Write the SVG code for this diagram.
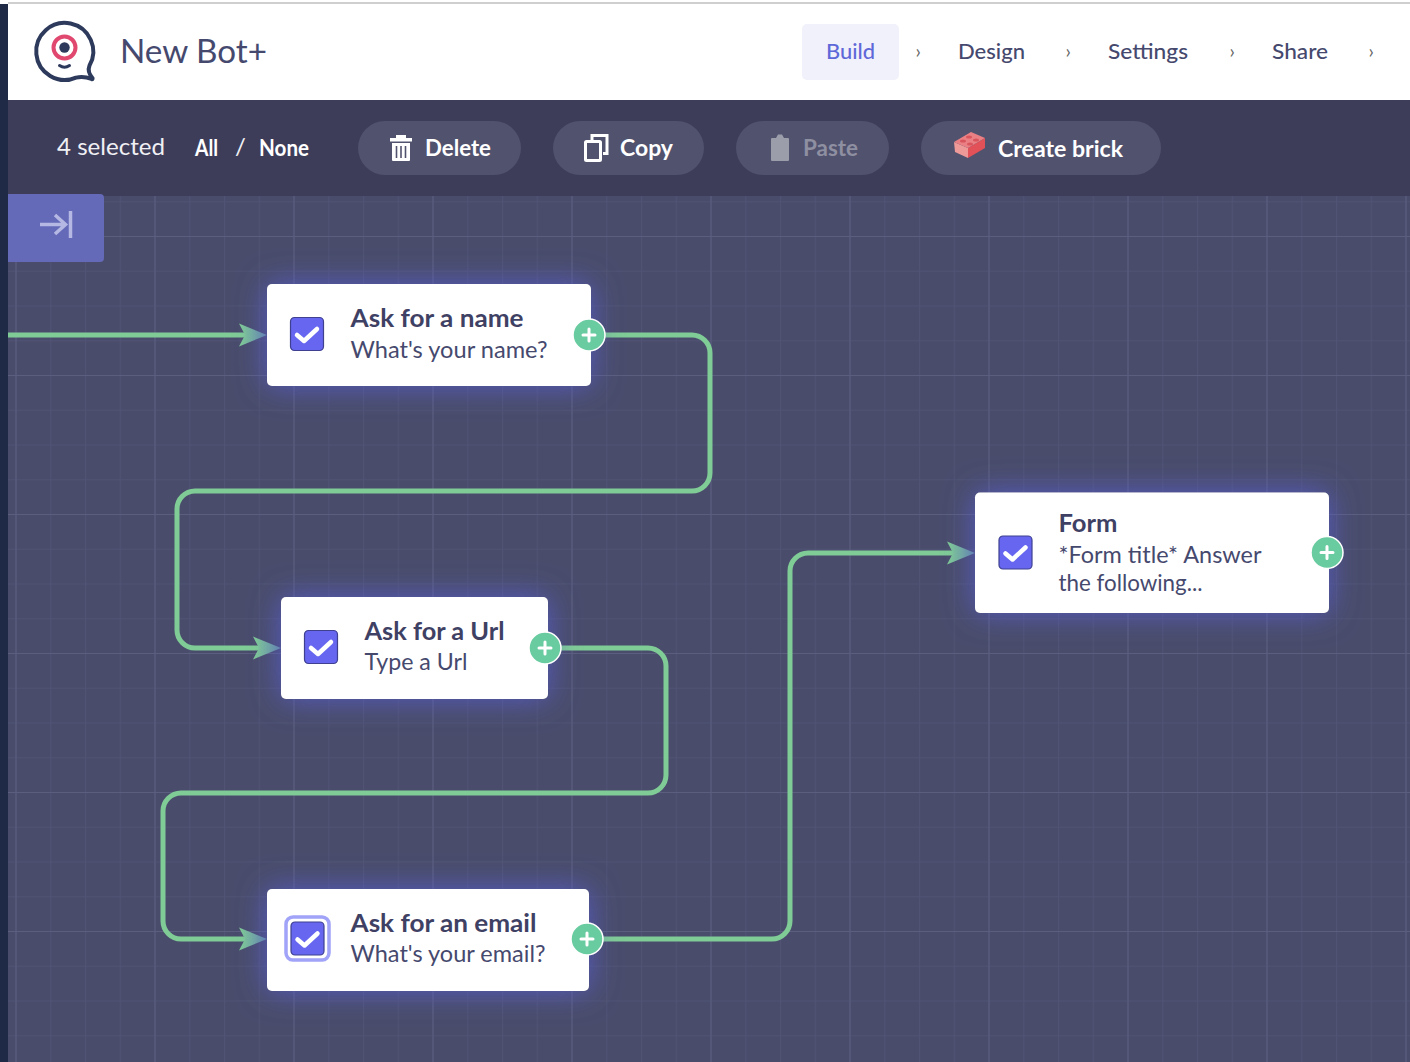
<svg xmlns="http://www.w3.org/2000/svg" width="1410" height="1062" viewBox="0 0 1410 1062">
<style>
text{font-family:"Lato","Inter","Liberation Sans",sans-serif}
.nt{font-size:25px;font-weight:700;fill:#3f4164}
.ns{font-size:23.5px;fill:#46496e}
.tb{font-size:22px;font-weight:700;fill:#fff}
.nav{font-size:22px;fill:#46496e;font-weight:500}
.chev{font-size:19px;fill:#666}
.btn{fill:#51526e}
.card{fill:#fff;filter:url(#glow)}
.cb{fill:#6666f0;stroke:#3f4190;stroke-width:1.2}
.ck{fill:none;stroke:#fff;stroke-width:4.5;stroke-linecap:round;stroke-linejoin:round}
.plus{fill:#69cba0;stroke:#fff;stroke-width:1.5}
.pl{stroke:#fff;stroke-width:3;stroke-linecap:round}
.edge{fill:none;stroke:#80cc96;stroke-width:5}
.gmin{stroke:#505374;stroke-width:2}
.gmaj{stroke:#5b5e7e;stroke-width:2}
</style>
<defs>
<filter id="glow" x="-30%" y="-70%" width="160%" height="240%"><feDropShadow dx="0" dy="0" stdDeviation="15" flood-color="#575bc8" flood-opacity=".95"/></filter>
<linearGradient id="ah" x1="0" x2="1" y1="0" y2="0"><stop offset="0" stop-color="#80cc96"/><stop offset="1" stop-color="#6da0a4"/></linearGradient>
<pattern id="gm" x="15.5" y="27.5" width="34.75" height="34.75" patternUnits="userSpaceOnUse"><path d="M0 0V34.750M0 0H34.750" class="gmin" fill="none"/></pattern>
<pattern id="gM" x="15.5" y="236" width="139" height="139" patternUnits="userSpaceOnUse"><path d="M0 0V139M0 0H139" class="gmaj" fill="none"/></pattern>
<symbol id="ckb" viewBox="0 0 34 34" overflow="visible"><rect x="0.5" y="0.5" width="33" height="33" rx="4" class="cb"/><path d="M7 18l7 6 13-12" class="ck"/></symbol>
</defs>
<rect width="1410" height="1062" fill="#fff"/>
<rect y="2" width="1410" height="2" fill="#cfcfcf"/>
<rect x="0" y="0" width="8" height="1062" fill="#1f2a47"/>
<rect x="0" y="0" width="8" height="4" fill="#fff"/>

<g id="background">
<rect x="8" y="196" width="1402" height="866" fill="#494c6b"/>
<rect x="8" y="196" width="1402" height="866" fill="url(#gm)"/>
<rect x="8" y="196" width="1402" height="866" fill="url(#gM)"/>
</g>

<g id="header">
<g id="logo" fill="none">
<path d="M89.500 65.500A28.500 28.500 0 1 0 76 77.600Q84 76 91.500 79Q93 79.500 92.500 78Q87 72 89.500 65.500Z" stroke="#2d3a5c" stroke-width="4" stroke-linejoin="round"/>
<circle cx="64.500" cy="47.500" r="11" stroke="#e0486f" stroke-width="4"/>
<circle cx="64.500" cy="47.500" r="5.200" fill="#2d3a5c"/>
<path d="M59.500 65.500q5 3.500 10 0" stroke="#2d3a5c" stroke-width="3" stroke-linecap="round"/>
</g>
<text x="120" y="63" font-size="33" fill="#46496e" textLength="147" lengthAdjust="spacingAndGlyphs">New Bot+</text>
<rect x="802" y="24" width="97" height="56" rx="5" fill="#f1f1fb"/>
<text x="826" y="59" class="nav" style="fill:#5f68d8" textLength="49" lengthAdjust="spacingAndGlyphs">Build</text>
<text x="915.500" y="58" class="chev">›</text>
<text x="958" y="59" class="nav" textLength="67" lengthAdjust="spacingAndGlyphs">Design</text>
<text x="1065.500" y="58" class="chev">›</text>
<text x="1108" y="59" class="nav" textLength="80" lengthAdjust="spacingAndGlyphs">Settings</text>
<text x="1229.500" y="58" class="chev">›</text>
<text x="1272" y="59" class="nav" textLength="56" lengthAdjust="spacingAndGlyphs">Share</text>
<text x="1368.500" y="58" class="chev">›</text>
</g>

<g id="toolbar">
<rect x="8" y="100" width="1402" height="96" fill="#3d3d5a"/>
<text x="57" y="155" font-size="23" fill="#f0f0f4" textLength="108" lengthAdjust="spacingAndGlyphs">4 selected</text>
<text x="195" y="156" class="tb" font-size="21" textLength="23" lengthAdjust="spacingAndGlyphs">All</text>
<text x="235" y="155" font-size="24" fill="#f0f0f4">/</text>
<text x="259" y="156" class="tb" textLength="50" lengthAdjust="spacingAndGlyphs">None</text>

<g id="btn-delete">
<rect x="358" y="121" width="163" height="54" rx="27" class="btn"/>
<path d="M390 138h22v3.500h-22zM396 138v-3h10v3z" fill="#fff"/>
<path d="M392 143h18v17q0 1-1 1h-16q-1 0-1-1z" fill="#fff"/>
<path d="M396.500 146v12M401 146v12M405.500 146v12" stroke="#51526e" stroke-width="1.600"/>
<text x="425" y="156" class="tb" textLength="66" lengthAdjust="spacingAndGlyphs">Delete</text>
</g>
<g id="btn-copy">
<rect x="553" y="121" width="151" height="54" rx="27" class="btn"/>
<rect x="585.500" y="141.500" width="15" height="19" rx="1" fill="none" stroke="#fff" stroke-width="3"/>
<path d="M592 140v-4.500h15v18h-4" fill="none" stroke="#fff" stroke-width="3"/>
<text x="620" y="156" class="tb" textLength="53" lengthAdjust="spacingAndGlyphs">Copy</text>
</g>
<g id="btn-paste">
<rect x="736" y="121" width="153" height="54" rx="27" class="btn"/>
<path d="M771 139q0-1 1-1h4l2-3.500h4l2 3.500h4q1 0 1 1v21q0 1-1 1h-16q-1 0-1-1z" fill="#9c9dab"/>
<text x="803" y="156" class="tb" style="fill:#8e8fa1" textLength="55" lengthAdjust="spacingAndGlyphs">Paste</text>
</g>
<g id="btn-brick">
<rect x="921" y="121" width="240" height="54" rx="27" class="btn"/>
<path d="M954 142l14 6v10l-13-6z" fill="#ee9a98"/>
<path d="M968 148l17-10v10l-17 10z" fill="#e25058"/>
<path d="M954 142l17-10 14 6-17 10z" fill="#ea8084"/>
<g fill="#d9555c"><ellipse cx="963" cy="141" rx="3" ry="1.600"/><ellipse cx="969" cy="137" rx="3" ry="1.600"/><ellipse cx="970" cy="144" rx="3" ry="1.600"/><ellipse cx="976" cy="140" rx="3" ry="1.600"/></g>
<text x="998" y="157" class="tb" textLength="125" lengthAdjust="spacingAndGlyphs">Create brick</text>
</g>
</g>

<g id="collapse">
<path d="M8 194h92a4 4 0 0 1 4 4v60a4 4 0 0 1-4 4H8z" fill="#646ab8"/>
<path d="M40 224.500h25M55 215l10.500 9.500-10.500 9.500M70.500 211v27" fill="none" stroke="#b5b8e2" stroke-width="3.500"/>
</g>

<g id="connectors">
<path class="edge" d="M8 335H250"/>
<path class="edge" d="M603 335H692a18 18 0 0 1 18 18V473a18 18 0 0 1-18 18H195a18 18 0 0 0-18 18V630a18 18 0 0 0 18 18H264"/>
<path class="edge" d="M560 648H648a18 18 0 0 1 18 18V775a18 18 0 0 1-18 18H181a18 18 0 0 0-18 18V921a18 18 0 0 0 18 18H250"/>
<path class="edge" d="M602 939H772a18 18 0 0 0 18-18V571a18 18 0 0 1 18-18H958"/>
<path d="M239 323.500l28 11.500-28 11.500 6-11.500z" fill="url(#ah)"/>
<path d="M253 636.500l28 11.500-28 11.500 6-11.500z" fill="url(#ah)"/>
<path d="M239 927.500l28 11.500-28 11.500 6-11.500z" fill="url(#ah)"/>
<path d="M947 541.500l28 11.500-28 11.500 6-11.500z" fill="url(#ah)"/>
</g>

<g id="node-name">
<rect x="267" y="284" width="324" height="102" rx="5" class="card"/>
<use href="#ckb" x="290" y="317" width="34" height="34"/>
<text x="350.500" y="327" class="nt" textLength="173" lengthAdjust="spacingAndGlyphs">Ask for a name</text>
<text x="350.500" y="358" class="ns" textLength="197" lengthAdjust="spacingAndGlyphs">What's your name?</text>
<circle cx="589" cy="335" r="16" class="plus"/><path d="M583 335h12M589 329v12" class="pl"/>
</g>
<g id="node-url">
<rect x="281" y="597" width="267" height="102" rx="5" class="card"/>
<use href="#ckb" x="304" y="630" width="34" height="34"/>
<text x="364.500" y="640" class="nt" textLength="140" lengthAdjust="spacingAndGlyphs">Ask for a Url</text>
<text x="364.500" y="670" class="ns" textLength="103" lengthAdjust="spacingAndGlyphs">Type a Url</text>
<circle cx="545" cy="648" r="16" class="plus"/><path d="M539 648h12M545 642v12" class="pl"/>
</g>
<g id="node-email">
<rect x="267" y="889" width="322" height="102" rx="5" class="card"/>
<rect x="286" y="917" width="43" height="43" rx="7" fill="#fff" stroke="#a0a3f8" stroke-width="3.500"/>
<use href="#ckb" x="290.500" y="921.500" width="34" height="34"/>
<text x="350.500" y="932" class="nt" textLength="186" lengthAdjust="spacingAndGlyphs">Ask for an email</text>
<text x="350.500" y="962" class="ns" textLength="195" lengthAdjust="spacingAndGlyphs">What's your email?</text>
<circle cx="587" cy="939" r="16" class="plus"/><path d="M581 939h12M587 933v12" class="pl"/>
</g>
<g id="node-form">
<rect x="975" y="492.500" width="354" height="120.500" rx="5" class="card"/>
<use href="#ckb" x="998.500" y="535.500" width="34" height="34"/>
<text x="1058.500" y="532" class="nt" textLength="59" lengthAdjust="spacingAndGlyphs">Form</text>
<text x="1058.500" y="563" class="ns" textLength="203" lengthAdjust="spacingAndGlyphs">*Form title* Answer</text>
<text x="1058.500" y="591" class="ns" textLength="144" lengthAdjust="spacingAndGlyphs">the following...</text>
<circle cx="1327" cy="552.500" r="16" class="plus"/><path d="M1321 552.500h12M1327 546.500v12" class="pl"/>
</g>
</svg>
